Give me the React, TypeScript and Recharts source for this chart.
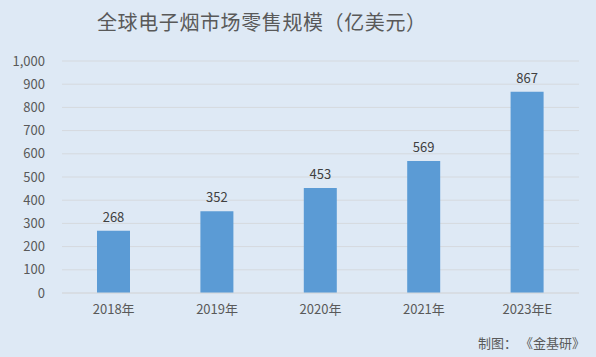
import { BarChart, Bar, XAxis, YAxis, CartesianGrid, LabelList } from "recharts"

const years = ["2018年", "2019年", "2020年", "2021年", "2023年E"]
const sales = [268, 352, 453, 569, 867]
const yTicks = [0, 100, 200, 300, 400, 500, 600, 700, 800, 900, 1000]

const data = years.map((year, i) => ({ year, sales: sales[i] }))

const font = '"Noto Sans CJK SC", "Noto Sans", sans-serif'

export default function App() {
  return (
    <div
      style={{
        position: "absolute",
        top: 0,
        left: 0,
        width: 596,
        height: 357,
        background: "#dee9f5",
        fontFamily: font,
      }}
    >
      <div
        style={{
          position: "absolute",
          top: 8,
          left: 97,
          fontSize: 20,
          letterSpacing: 0.6,
          color: "#595959",
          lineHeight: "28px",
          whiteSpace: "nowrap",
        }}
      >
        全球电子烟市场零售规模（亿美元）
      </div>
      <BarChart
        width={596}
        height={357}
        data={data}
        margin={{ top: 61, right: 17, bottom: 34, left: 0 }}
      >
        <CartesianGrid vertical={false} stroke="#d5d9de" />
        <XAxis
          dataKey="year"
          height={30}
          axisLine={{ stroke: "#d5d9de" }}
          tickLine={false}
          tickSize={0}
          tickMargin={12}
          tick={{ fill: "#595959", fontSize: 13, fontFamily: font }}
        />
        <YAxis
          width={62}
          domain={[0, 1000]}
          ticks={yTicks}
          interval={0}
          axisLine={false}
          tickLine={false}
          tickSize={0}
          tickMargin={17}
          tickFormatter={(v: number) => v.toLocaleString("en-US")}
          tick={{ fill: "#595959", fontSize: 13, fontFamily: font }}
        />
        <Bar dataKey="sales" fill="#5b9bd5" barSize={33} isAnimationActive={false}>
          <LabelList
            dataKey="sales"
            position="top"
            offset={9}
            fill="#404040"
            fontSize={13}
            fontFamily={font}
          />
        </Bar>
      </BarChart>
      <div
        style={{
          position: "absolute",
          top: 334,
          right: 11,
          fontSize: 13,
          color: "#595959",
          lineHeight: "18px",
          whiteSpace: "nowrap",
        }}
      >
        制图： 《金基研》
      </div>
    </div>
  )
}
